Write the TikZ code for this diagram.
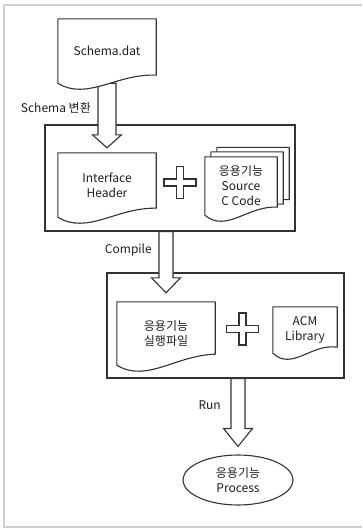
\documentclass[tikz,border=0pt]{standalone}
\usepackage{fontspec}
\setmainfont{Noto Sans CJK KR}
\usetikzlibrary{calc,positioning,shapes.geometric}
\definecolor{dgline}{RGB}{50,50,50}
\definecolor{dgframe}{RGB}{208,208,208}
\definecolor{dgtext}{RGB}{30,30,30}
\pgfdeclarelayer{backdrop}
\pgfdeclarelayer{sheets}
\pgfsetlayers{backdrop,sheets,main}

% document sheet with wavy bottom, drawn round a node
\newcommand{\docoutline}[2]{%
  \draw[docline] (#1.north west) -- (#1.north east) -- ($(#1.south east)+(0,-#2)$)
    .. controls ($(#1.south west)!0.6!(#1.south east)+(0,-10)$) and ($(#1.south west)!0.3!(#1.south east)+(0,18)$) .. (#1.south west) -- cycle;}
% hollow block arrow: start, tip, half shaft width, head length
\newcommand{\hollowarrow}[4]{%
  \draw[arrowbody] let \p1=(#1), \p2=(#2) in
    (\x1-#3pt,\y1) -- (\x1+#3pt,\y1) -- (\x1+#3pt,\y2+#4pt) -- (\x1+14.5pt,\y2+#4pt)
    -- (\x1,\y2) -- (\x1-14.5pt,\y2+#4pt) -- (\x1-#3pt,\y2+#4pt) -- cycle;}
% hollow plus sign round a coordinate
\newcommand{\plusmark}[1]{%
  \draw[plusline] (#1) ++(-3.5,-16) -- ++(7,0) -- ++(0,12.5) -- ++(12.5,0) -- ++(0,7)
    -- ++(-12.5,0) -- ++(0,12.5) -- ++(-7,0) -- ++(0,-12.5) -- ++(-12.5,0) -- ++(0,-7)
    -- ++(12.5,0) -- cycle;}

\begin{document}
\begin{tikzpicture}[x=1pt,y=-1pt,
  every node/.style={font=\fontsize{12}{15}\selectfont,text=dgtext},
  doc/.style={inner sep=0pt,align=center},
  docline/.style={draw=dgline,fill=white,line width=1.1pt,line join=round},
  groupbox/.style={draw=dgline,line width=1.1pt,inner sep=0pt},
  arrowbody/.style={draw=dgline,fill=white,line width=1.1pt,line join=miter},
  plusline/.style={draw=dgline,line width=1.1pt},
  lbl/.style={inner sep=0pt,anchor=east},
  procnode/.style={draw=dgline,line width=1.1pt,ellipse,inner sep=0pt,minimum width=110pt,minimum height=50pt,align=center}
]
\useasboundingbox (0,0) rectangle (362,530);
\draw[dgframe,line width=1.5pt] (362,5) -- (4,5) -- (4,527) -- (362,527);

% sheets
\node[doc,minimum width=98pt,minimum height=64pt] (schema) at (107,51) {Schema.dat};
\node[doc,minimum width=98pt,minimum height=64pt] (iface) at (107,185) {Interface\\Header};
\node[doc,minimum width=72pt,minimum height=60pt] (srcback) at (253,177.5) {};
\node[doc,minimum width=72pt,minimum height=60pt] (srcmid) at (247,182) {};
\node[doc,minimum width=72pt,minimum height=58pt] (src) at (241,186) {응용기능\\Source\\C Code};
\node[doc,minimum width=98pt,minimum height=63pt] (exe) at (166,333.5) {응용기능\\실행파일};
\node[doc,minimum width=64pt,minimum height=46pt] (acm) at (305,330) {ACM\\Library};
\node[procnode] (proc) at (238,480) {응용기능\\Process};

% labels
\node[lbl] (conv) at (91,108) {Schema 변환};
\node[lbl] (comp) at (152,250) {Compile};
\node[lbl] (run) at (221,405) {Run};

\coordinate (plus1) at (180,182.5);
\coordinate (plus2) at (242.5,329);
\plusmark{plus1}
\plusmark{plus2}

\begin{pgfonlayer}{backdrop}
\node[groupbox,minimum width=250pt,minimum height=106pt] (box1) at (170,178) {};
\node[groupbox,minimum width=237pt,minimum height=105pt] (box2) at (225.5,325.5) {};
\coordinate (a1tip) at ($(iface.north)+(0,-5)$);
\coordinate (a2tip) at ($(exe.north)+(0,-9)$);
\coordinate (a3tip) at ($(proc.north)+(0,-8)$);
\hollowarrow{schema.south}{a1tip}{9}{13}
\hollowarrow{box1.south -| exe.north}{a2tip}{7}{15}
\hollowarrow{box2.south -| proc.north}{a3tip}{7}{18}
\end{pgfonlayer}

\begin{pgfonlayer}{sheets}
\docoutline{schema}{8}
\docoutline{iface}{9}
\docoutline{srcback}{8}
\docoutline{srcmid}{8}
\docoutline{src}{8}
\docoutline{exe}{11}
\docoutline{acm}{6}
\end{pgfonlayer}
\end{tikzpicture}
\end{document}
